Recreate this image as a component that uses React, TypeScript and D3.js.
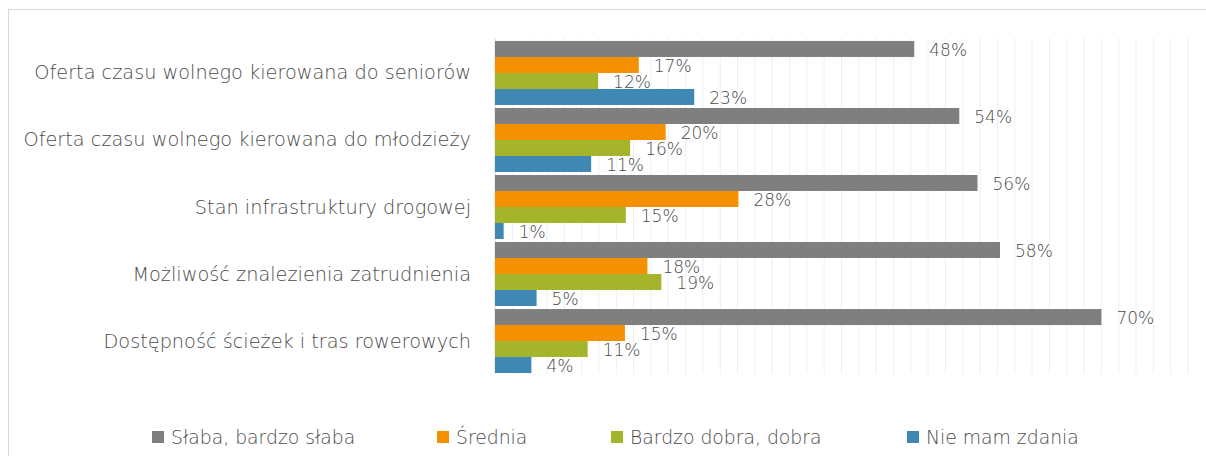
import React from "react";
import * as d3 from "d3";

const categories = [
  "Oferta czasu wolnego kierowana do seniorów",
  "Oferta czasu wolnego kierowana do młodzieży",
  "Stan infrastruktury drogowej",
  "Możliwość znalezienia zatrudnienia",
  "Dostępność ścieżek i tras rowerowych",
];
const seriesNames = ["Słaba, bardzo słaba", "Średnia", "Bardzo dobra, dobra", "Nie mam zdania"];
const slaba = [48.4, 53.6, 55.7, 58.3, 70.0];
const srednia = [16.6, 19.7, 28.1, 17.6, 15.0];
const dobra = [11.9, 15.6, 15.1, 19.2, 10.7];
const brak = [23.0, 11.1, 1.0, 4.8, 4.2];
const colors = ["#7f7f7f", "#f59100", "#a5b52b", "#3f88b4"];

export default function App() {
  const W = 1206, H = 456;
  const series = [slaba, srednia, dobra, brak];
  const x = d3.scaleLinear().domain([0, 80]).range([495, 1188]);
  const y = d3.scaleBand<string>().domain(categories).range([39.5, 374.5]).paddingInner(0.045).paddingOuter(0.022);
  const inner = d3.scaleBand<number>().domain([0, 1, 2, 3]).range([0, y.bandwidth()]);
  const grid = d3.range(2, 81, 2);
  const font = "'DejaVu Sans', 'Open Sans', sans-serif";
  const legendX = [152, 437, 611, 907];
  const textFill = "#4a4a4a";
  return (
    <svg width={W} height={H} style={{ position: "absolute", left: 0, top: 0 }} fontFamily={font} fontWeight={300}>
      <rect x={8.5} y={9.5} width={W} height={H} fill="#fff" stroke="#d9d9d9" strokeWidth={1} />
      {grid.map((g) => (
        <line key={g} x1={x(g)} x2={x(g)} y1={38} y2={374} stroke="#efefef" strokeWidth={1} />
      ))}
      <line x1={x(0)} x2={x(0)} y1={38} y2={374} stroke="#d9d9d9" strokeWidth={1} />
      {categories.map((c, ci) => (
        <g key={c}>
          <text x={471} y={(y(c) as number) + y.bandwidth() / 2} textAnchor="end" dominantBaseline="central" fontSize={19.3} fill={textFill}>
            {c}
          </text>
          {series.map((s, si) => {
            const by = (y(c) as number) + (inner(si) as number);
            return (
              <g key={si}>
                <rect x={x(0)} y={by} width={x(s[ci]) - x(0)} height={inner.bandwidth()} fill={colors[si]} />
                <text x={x(s[ci]) + 15} y={by + inner.bandwidth() / 2 + 1} dominantBaseline="central" fontSize={17} fill={textFill}>
                  {d3.format(".0f")(s[ci])}%
                </text>
              </g>
            );
          })}
        </g>
      ))}
      {seriesNames.map((n, i) => (
        <g key={n}>
          <rect x={legendX[i]} y={431} width={12} height={12} fill={colors[i]} />
          <text x={legendX[i] + 19} y={437.5} dominantBaseline="central" fontSize={18.8} fill={textFill}>
            {n}
          </text>
        </g>
      ))}
    </svg>
  );
}
